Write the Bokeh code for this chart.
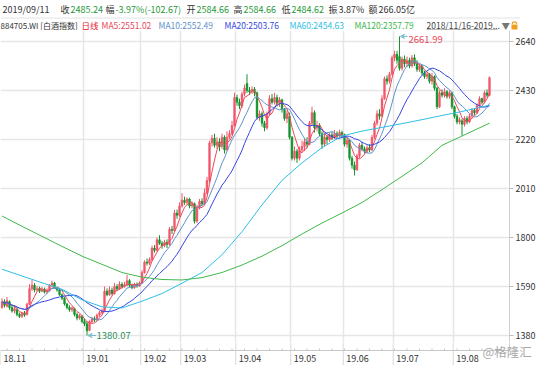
import numpy as np
import pandas as pd
from bokeh.plotting import figure
from bokeh.layouts import column
from bokeh.models import (ColumnDataSource, Range1d, LinearAxis, FixedTicker, Grid,
                          Label, Arrow, VeeHead)
from bokeh.core.properties import value
from bokeh.embed import file_html
from bokeh.resources import INLINE

# ---------------- data ----------------
opens = [1500,1525,1505,1525,1500,1485,1490,1470,1462,1475,1470,1515,1580,1595,1575,1582,1570,1578,1566,1572,
         1595,1605,1585,1575,1555,1540,1515,1500,1490,1495,1470,1455,1462,1440,1430,1402,1440,1452,1448,1468,
         1478,1485,1570,1555,1575,1560,1590,1580,1600,1590,1598,1615,1595,1585,1600,1592,1605,1650,1695,1690,
         1705,1755,1745,1790,1775,1765,1780,1770,1835,1830,1905,1895,1935,1960,1950,1965,1935,1945,1870,1930,
         1955,1945,1990,2045,2205,2225,2195,2210,2190,2230,2175,2230,2245,2280,2400,2380,2365,2415,2460,2430,
         2425,2435,2420,2315,2330,2290,2270,2330,2395,2380,2400,2375,2390,2350,2310,2320,2230,2140,2170,2140,
         2175,2190,2210,2200,2290,2335,2270,2280,2245,2200,2230,2220,2240,2230,2245,2235,2250,2240,2200,2215,
         2140,2110,2090,2150,2195,2180,2170,2185,2175,2230,2290,2330,2320,2395,2480,2470,2500,2570,2585,2575,
         2525,2565,2545,2560,2535,2570,2545,2520,2535,2505,2490,2500,2470,2490,2440,2360,2420,2410,2425,2405,
         2420,2360,2320,2295,2300,2285,2310,2295,2320,2345,2335,2365,2395,2380,2420,2410]
closes = [1525,1510,1530,1500,1485,1495,1470,1462,1475,1468,1515,1580,1595,1575,1580,1570,1578,1566,1572,1595,
          1605,1585,1575,1555,1540,1515,1500,1490,1498,1470,1455,1465,1440,1430,1400,1440,1452,1446,1468,1478,
          1485,1570,1555,1575,1560,1590,1580,1600,1590,1598,1615,1595,1585,1600,1592,1605,1650,1695,1690,1705,
          1755,1745,1790,1775,1765,1780,1770,1835,1830,1905,1895,1935,1960,1950,1965,1935,1945,1870,1930,1955,
          1945,1990,2045,2205,2225,2195,2210,2190,2230,2175,2230,2245,2280,2400,2380,2365,2415,2440,2430,2425,
          2435,2420,2315,2330,2290,2270,2330,2395,2380,2400,2375,2390,2350,2310,2330,2230,2140,2170,2140,2175,
          2190,2210,2200,2290,2335,2270,2280,2245,2200,2230,2220,2240,2230,2245,2235,2250,2240,2200,2215,2140,
          2110,2090,2150,2195,2180,2170,2185,2175,2230,2290,2330,2320,2395,2480,2470,2500,2570,2585,2560,2525,
          2565,2545,2560,2535,2570,2545,2520,2535,2505,2490,2500,2470,2490,2440,2360,2420,2410,2425,2405,2420,
          2360,2320,2295,2305,2285,2310,2295,2320,2345,2335,2365,2395,2380,2420,2410,2485]
highs = [1540,1535,1545,1530,1510,1505,1498,1478,1482,1485,1520,1600,1618,1605,1592,1590,1588,1585,1582,1600,
         1615,1610,1590,1580,1560,1545,1520,1510,1505,1500,1478,1472,1468,1452,1440,1445,1460,1462,1474,1486,
         1495,1590,1582,1590,1585,1605,1600,1612,1608,1610,1640,1622,1602,1606,1608,1612,1660,1702,1710,1715,
         1765,1768,1800,1810,1785,1790,1792,1845,1850,1918,1920,1950,1990,1975,1972,1970,1955,1950,1940,1965,
         1968,2010,2060,2215,2240,2245,2230,2225,2245,2238,2255,2260,2300,2420,2412,2395,2425,2455,2500,2445,
         2448,2445,2425,2345,2340,2300,2340,2410,2415,2420,2412,2402,2395,2355,2345,2335,2235,2190,2180,2190,
         2215,2225,2230,2300,2360,2345,2300,2290,2255,2245,2240,2250,2252,2260,2255,2262,2258,2245,2225,2220,
         2150,2125,2160,2205,2210,2190,2195,2200,2240,2300,2345,2350,2410,2490,2495,2510,2580,2600,2600,2661.99,
         2575,2580,2575,2570,2582,2585,2560,2545,2540,2515,2510,2505,2505,2495,2445,2430,2435,2440,2432,2430,
         2425,2365,2330,2315,2310,2320,2320,2330,2355,2352,2375,2405,2400,2430,2435,2490]
lows = [1495,1500,1500,1490,1478,1475,1462,1455,1455,1460,1465,1510,1570,1565,1568,1562,1565,1560,1558,1568,
        1588,1580,1568,1550,1532,1508,1492,1482,1480,1462,1445,1448,1432,1420,1380.07,1398,1432,1438,1442,1460,
        1470,1480,1548,1550,1552,1555,1570,1575,1582,1585,1592,1588,1578,1580,1585,1588,1600,1645,1680,1682,
        1700,1735,1740,1768,1752,1758,1755,1765,1815,1825,1880,1888,1928,1940,1938,1925,1925,1860,1862,1920,
        1935,1940,1985,2035,2190,2185,2180,2170,2180,2160,2170,2220,2238,2275,2365,2350,2355,2405,2420,2410,
        2415,2405,2305,2300,2275,2255,2262,2325,2370,2370,2362,2360,2335,2300,2290,2220,2130,2130,2120,2130,
        2165,2170,2185,2195,2280,2250,2255,2235,2180,2190,2200,2210,2218,2222,2225,2228,2225,2190,2185,2130,
        2095,2066,2085,2140,2170,2160,2160,2165,2170,2222,2280,2305,2315,2390,2455,2460,2495,2555,2545,2515,
        2515,2530,2530,2525,2528,2535,2510,2510,2495,2480,2478,2460,2455,2430,2350,2355,2400,2400,2395,2395,
        2350,2310,2285,2285,2237,2275,2285,2290,2310,2325,2330,2355,2370,2375,2400,2405]

ma_sample_idx = [0, 8, 16, 24, 32, 40, 48, 56, 64, 72, 80, 88, 96, 104, 112, 120, 128, 136, 144, 152,
                 160, 168, 176, 184, 192, 195]
ma60_vals = [1664, 1635, 1606, 1578, 1533, 1503, 1498, 1527, 1560, 1604, 1650, 1726, 1825, 1940, 2045,
             2120, 2185, 2235, 2256, 2272, 2288, 2305, 2323, 2340, 2360, 2367]
ma120_vals = [1892, 1848, 1805, 1762, 1720, 1685, 1650, 1630, 1620, 1618, 1628, 1650, 1682, 1720, 1765,
              1815, 1862, 1905, 1950, 2005, 2062, 2120, 2195, 2235, 2275, 2290]

y_ticks = [1380, 1590, 1800, 2010, 2220, 2430, 2640]
month_labels = ["18.11", "19.01", "19.02", "19.03", "19.04", "19.05", "19.06", "19.07", "19.08"]
month_pos = [-0.6, 32.5, 55.5, 71.5, 93.5, 115.5, 136.5, 156.5, 180.5]

row1_texts = ["2019/09/11", "收", "2485.24", "幅", "-3.97%(-102.67)", "开", "2584.66", "高", "2584.66",
              "低", "2484.62", "振", "3.87%", "额", "266.05亿"]
code_text = "884705.WI [白酒指数]"
row2_texts = ["日线", "MA5:2551.02", "MA10:2552.49", "MA20:2503.76", "MA60:2454.63", "MA120:2357.79",
              "2018/11/16-2019...", "▼"]
watermark = "@格隆汇"

# ---------------- layout / style ----------------
X0, PXX = -0.6, 2.5            # x data start, pixels per candle
UPP = 30 / 7                   # price units per pixel
Y_TOP = 2640 + 11 * UPP        # price at top of main frame
MAIN_H = 312
Y_BOT = Y_TOP - MAIN_H * UPP

FONT = "Noto Sans CJK SC"
DARK = "#333333"
GREEN = "#1f9a3c"
UP = "#f2566a"
DOWN = "#15942c"
C5, C10, C20, C60, C120 = "#ea4a5c", "#5f92cc", "#3447e2", "#2fc0e6", "#40b84c"
GRIDC = "#e6e6e6"

# ---------------- header figure ----------------
h = figure(width=554, height=30, x_range=Range1d(0, 554), y_range=Range1d(30, 0),
           output_backend="svg", toolbar_location=None, x_axis_location=None, y_axis_location=None,
           min_border=0, outline_line_color=None, border_fill_color="white", background_fill_color="white",
           frame_align=False)
h.grid.grid_line_color = None

row1_x = [2, 60, 70, 105, 115, 186, 196, 233, 243, 281, 291, 328, 338, 368, 378]
row1_col = [DARK, DARK, GREEN, DARK, GREEN, DARK, GREEN, DARK, GREEN, DARK, GREEN, DARK, DARK, DARK, DARK]
h.text(x=row1_x, y=[9] * len(row1_x), text=row1_texts, text_color=row1_col, text_font=value(FONT),
       text_font_size="9px", text_baseline="middle", text_align="left")
h.segment(x0=[0], y0=[17.5], x1=[520], y1=[17.5], line_color="#e2e2e2", line_width=1)

h.text(x=[0], y=[24.5], text=[code_text], text_color=DARK, text_font=value(FONT),
       text_font_size="8px", text_baseline="middle", text_align="left")
row2_x = [81, 101, 158, 224, 289, 354, 426, 501]
row2_col = ["#e8212e", C5, C10, C20, C60, C120, "#444444", "#777777"]
h.text(x=row2_x, y=[24.5] * len(row2_x), text=row2_texts, text_color=row2_col, text_font=value(FONT),
       text_font_size="8.5px", text_baseline="middle", text_align="left")
h.segment(x0=[426], y0=[29.5], x1=[497], y1=[29.5], line_color="#555555", line_width=0.8)
# small orange lock
h.rect(x=[514], y=[26.5], width=6, height=5, fill_color="#f0a020", line_color=None)
h.arc(x=[514], y=[23.5], radius=2.2, start_angle=0, end_angle=np.pi, line_color="#f0a020", line_width=1.2)

# ---------------- main price figure ----------------
p = figure(width=554, height=MAIN_H, x_range=Range1d(X0, X0 + 509 / PXX), y_range=Range1d(Y_BOT, Y_TOP),
           output_backend="svg", toolbar_location=None, x_axis_location=None, y_axis_location=None,
           min_border_left=0, min_border_right=45, min_border_top=0, min_border_bottom=0,
           outline_line_color=None, background_fill_color="white", border_fill_color="white",
           frame_align=False)
p.grid.grid_line_color = None

p.add_layout(Grid(dimension=1, ticker=FixedTicker(ticks=y_ticks), grid_line_color=GRIDC,
                  grid_line_width=1.5), "center")
p.add_layout(Grid(dimension=0, ticker=FixedTicker(ticks=month_pos[1:]), grid_line_color=GRIDC,
                  grid_line_width=1.5), "center")

yax = LinearAxis(ticker=FixedTicker(ticks=y_ticks), axis_line_color="#cfcfcf", major_tick_line_color="#bdbdbd",
                 major_tick_out=4, major_tick_in=0, minor_tick_line_color=None,
                 major_label_text_font_size="9px", major_label_text_color=DARK, major_label_text_font=FONT,
                 major_label_standoff=2)
p.add_layout(yax, "right")

idx = list(range(len(closes)))
colors = [UP if c >= o else DOWN for o, c in zip(opens, closes)]
src = ColumnDataSource(dict(x=idx, high=highs, low=lows,
                            top=[max(o, c) for o, c in zip(opens, closes)],
                            bottom=[min(o, c) for o, c in zip(opens, closes)],
                            color=colors))
p.segment(x0="x", y0="low", x1="x", y1="high", line_color="color", line_width=1, source=src)
p.vbar(x="x", width=0.72, top="top", bottom="bottom", fill_color="color", line_color="color",
       line_width=0.5, source=src)

cs = pd.Series(closes, dtype=float)
for n, col in [(5, C5), (10, C10), (20, C20)]:
    p.line(idx, cs.rolling(n, min_periods=1).mean().tolist(), line_color=col, line_width=1)
p.line(ma_sample_idx, ma60_vals, line_color=C60, line_width=1)
p.line(ma_sample_idx, ma120_vals, line_color=C120, line_width=1)

imin = int(np.argmin(lows))
imax = int(np.argmax(highs))
ARROWC = "#6cb7c9"
p.add_layout(Arrow(end=VeeHead(size=4, line_color=ARROWC, line_width=1, fill_color=None),
                   x_start=imin + 3.6, y_start=lows[imin], x_end=imin + 0.4, y_end=lows[imin],
                   line_color=ARROWC, line_width=1))
p.add_layout(Label(x=imin + 3.8, y=lows[imin], text=f"{lows[imin]:.2f}", text_font=FONT,
                   text_font_size="9.5px", text_color="#2f8f5e", text_baseline="middle"))
p.add_layout(Arrow(end=VeeHead(size=4, line_color=ARROWC, line_width=1, fill_color=None),
                   x_start=imax + 3.2, y_start=highs[imax], x_end=imax + 0.4, y_end=highs[imax],
                   line_color=ARROWC, line_width=1))
p.add_layout(Label(x=imax + 3.6, y=highs[imax] - 12, text=f"{highs[imax]:.2f}", text_font=FONT,
                   text_font_size="9.5px", text_color="#e8475a", text_baseline="middle"))

# ---------------- bottom date strip ----------------
STRIP_H = 23
AX_Y = 8  # axis line position inside strip (pixels from strip top)
s = figure(width=554, height=STRIP_H, x_range=Range1d(X0, X0 + 554 / PXX), y_range=Range1d(STRIP_H, 0),
           output_backend="svg", toolbar_location=None, x_axis_location=None, y_axis_location=None,
           min_border=0, outline_line_color=None, background_fill_color="white", border_fill_color="white",
           frame_align=False)
s.grid.grid_line_color = None
x_end = X0 + 509 / PXX
s.segment(x0=month_pos[1:], y0=[0] * 8, x1=month_pos[1:], y1=[AX_Y] * 8, line_color=GRIDC, line_width=1.5)
s.segment(x0=month_pos, y0=[AX_Y] * 9, x1=month_pos, y1=[STRIP_H] * 9, line_color="#d6d6d6", line_width=1)
minor = [float(v) for v in np.arange(2.0, 196.0, 5.0)]
s.segment(x0=minor, y0=[AX_Y - 2] * len(minor), x1=minor, y1=[AX_Y] * len(minor),
          line_color="#c4c4c4", line_width=1)
s.segment(x0=[X0], y0=[AX_Y], x1=[x_end], y1=[AX_Y], line_color="#c8c8c8", line_width=1)
s.segment(x0=[x_end], y0=[0], x1=[x_end], y1=[AX_Y], line_color="#cfcfcf", line_width=1)
s.text(x=month_pos, y=[15.5] * 9, text=month_labels, x_offset=3, text_font=value(FONT),
       text_font_size="9px", text_color=DARK, text_baseline="middle", text_align="left")
s.text(x=[X0 + 482 / PXX], y=[9], text=[watermark], text_font=value(FONT), text_font_size="12.5px",
       text_color="#a8a8a8", text_baseline="middle", text_align="left")

layout = column(h, p, s, spacing=0)
html = file_html(layout, INLINE)
html = html.replace("<body>", '<body style="margin:0">', 1)
open("out.html", "w").write(html)
